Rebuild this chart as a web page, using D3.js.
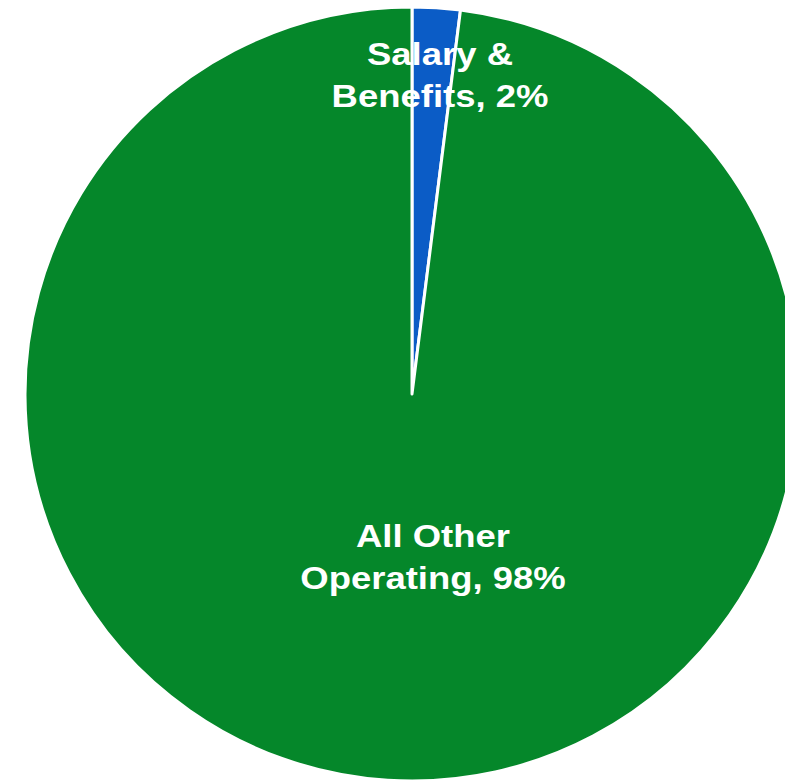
<!DOCTYPE html>
<html>
<head>
<meta charset="utf-8">
<script src="https://cdn.jsdelivr.net/npm/d3@7"></script>
<style>
  html, body { margin: 0; padding: 0; background: #fff; }
  svg { display: block; }
</style>
</head>
<body>
<svg id="chart" width="785" height="783"></svg>
<script>
const categories = ["Salary & Benefits", "All Other Operating"];
const values = [2, 98];
const labelLines = [["Salary &", "Benefits, 2%"], ["All Other", "Operating, 98%"]];
const colors = ["#0B5CC6", "#05872A"];

const svg = d3.select("#chart");
const cx = 412, cy = 394, r = 387;

const pie = d3.pie().sort(null).value(d => d)(values);
const arc = d3.arc().innerRadius(0).outerRadius(r);

const g = svg.append("g").attr("transform", `translate(${cx},${cy})`);

g.selectAll("path.slice")
  .data(pie)
  .enter().append("path")
  .attr("class", "slice")
  .attr("d", arc)
  .attr("fill", (d, i) => colors[i])
  .attr("stroke", "#fff")
  .attr("stroke-width", 3)
  .attr("stroke-linejoin", "round");

// label centres (relative to pie center), as Excel places them
const labelArc = d3.arc().innerRadius(0).outerRadius(r);
const labelPos = [[28, -319], [21, 163]];
const lineGap = 42;

const labels = g.selectAll("g.lbl")
  .data(pie)
  .enter().append("g")
  .attr("class", "lbl")
  .attr("transform", (d, i) => `translate(${labelPos[i][0]},${labelPos[i][1]}) scale(1.14,1)`);

labels.each(function(d, i) {
  const lines = labelLines[i];
  const t = d3.select(this).append("text")
    .attr("text-anchor", "middle")
    .attr("fill", "#fff")
    .attr("font-family", "'Liberation Sans', Arial, sans-serif")
    .attr("font-weight", "bold")
    .attr("font-size", 32);
  lines.forEach((ln, k) => {
    t.append("tspan")
      .attr("x", 0)
      .attr("y", (k - (lines.length - 1) / 2) * lineGap + 11)
      .text(ln);
  });
});
</script>
</body>
</html>
